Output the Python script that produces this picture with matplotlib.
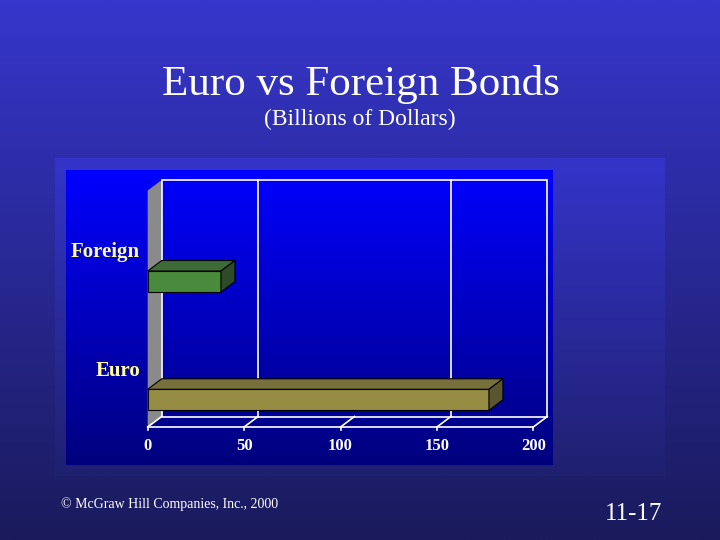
import numpy as np
import matplotlib
matplotlib.use("Agg")
import matplotlib.pyplot as plt
from matplotlib.patches import Polygon, Rectangle

# data
categories = ["Euro", "Foreign"]
values = [177, 38]
xticks = [0, 50, 100, 150, 200]
grid_x = [50, 150]          # only these back-wall grid lines are shown in the original

front_colors = ["#968c44", "#4a8a3c"]
top_colors = ["#77703a", "#3d6a36"]
side_colors = ["#5a5430", "#2c4b26"]

title = "Euro vs Foreign Bonds"
subtitle = "(Billions of Dollars)"
footer = "\u00a9 McGraw Hill Companies, Inc., 2000"
slide_no = "11-17"

SERIF = ["Liberation Serif", "DejaVu Serif"]
W, H = 720, 540

fig = plt.figure(figsize=(7.2, 5.4), dpi=100)

# background (pixel coords)
bg = fig.add_axes([0, 0, 1, 1])
bg.axis("off")


def vgrad(ax, x0, x1, y0, y1, c_top, c_bot):
    t = np.linspace(0, 1, 256)[:, None, None]
    col = np.array(c_top)[None, None, :] * (1 - t) + np.array(c_bot)[None, None, :] * t
    ax.imshow(col / 255.0, extent=[x0, x1, y1, y0], aspect="auto",
              interpolation="bilinear")


vgrad(bg, 0, W, 0, H, (54, 54, 204), (26, 26, 92))
vgrad(bg, 55, 665, 158, 476, (52, 52, 202), (32, 32, 112))
vgrad(bg, 66, 553, 170, 465, (0, 0, 255), (0, 0, 125))
bg.set_xlim(0, W)
bg.set_ylim(H, 0)

fig.text(361 / W, 1 - 95 / H, title, family=SERIF, fontsize=31, color="white",
         ha="center", va="baseline")
fig.text(360 / W, 1 - 125 / H, subtitle, family=SERIF, fontsize=17, color="white",
         ha="center", va="baseline")
fig.text(61 / W, 1 - 508 / H, footer, family=SERIF, fontsize=10, color="white",
         ha="left", va="baseline")
fig.text(662 / W, 1 - 520 / H, slide_no, family=SERIF, fontsize=18, color="white",
         ha="right", va="baseline")

# chart axes = front plane of the 3d box
x_l, x_r, y_b, y_t = 147.7, 533.3, 427.0, 190.5
ax = fig.add_axes([x_l / W, 1 - y_b / H, (x_r - x_l) / W, (y_b - y_t) / H])
ax.set_xlim(0, 200)
ax.set_ylim(0, len(categories))
ax.axis("off")

xmax = 200
ytop = len(categories)
DX = 14 * xmax / (x_r - x_l)
DY = 10.5 * ytop / (y_b - y_t)
lw = 1.2

# left side wall
ax.add_patch(Polygon([(0, 0), (0, ytop), (DX, ytop + DY), (DX, DY)],
                     closed=True, facecolor="#8a8a8a", edgecolor="none",
                     clip_on=False, zorder=1))
# back wall
ax.add_patch(Rectangle((DX, DY), xmax, ytop, fill=False, edgecolor="white",
                       lw=lw, clip_on=False, zorder=2))
for gx in grid_x:
    ax.plot([gx + DX, gx + DX], [DY, ytop + DY], color="white", lw=lw,
            clip_on=False, zorder=2)
# floor
ax.plot([0, xmax], [0, 0], color="white", lw=lw, clip_on=False, zorder=2)
tick_len = 3 * ytop / (y_b - y_t)
for tx in xticks:
    ax.plot([tx, tx + DX], [0, DY], color="white", lw=lw, clip_on=False, zorder=2)
    ax.plot([tx, tx], [0, -tick_len], color="white", lw=lw, clip_on=False, zorder=2)
    ax.text(tx, -0.1945, str(tx), family=SERIF, fontweight="bold", fontsize=12,
            color="white", ha="center", va="baseline")

# bars
pos = np.arange(len(categories))
bar_y = pos + 0.23
bh = 0.178
ax.barh(bar_y, values, height=bh, left=0, color=front_colors,
        edgecolor="black", lw=0.8, zorder=4, clip_on=False)
for y, v, tc, sc in zip(bar_y, values, top_colors, side_colors):
    yt, yb = y + bh / 2, y - bh / 2
    ax.add_patch(Polygon([(0, yt), (v, yt), (v + DX, yt + DY), (DX, yt + DY)],
                         closed=True, facecolor=tc, edgecolor="black", lw=0.8,
                         clip_on=False, zorder=4))
    ax.add_patch(Polygon([(v, yb), (v, yt), (v + DX, yt + DY), (v + DX, yb + DY)],
                         closed=True, facecolor=sc, edgecolor="black", lw=0.8,
                         clip_on=False, zorder=4))

# category labels
for p, name in zip(pos, categories):
    ax.text(-7.5 * xmax / (x_r - x_l), p + 0.5 - 0.065, name, family=SERIF,
            fontweight="bold", fontsize=15, color="#ffff99", ha="right",
            va="baseline")

fig.savefig("out.png", dpi=100)
